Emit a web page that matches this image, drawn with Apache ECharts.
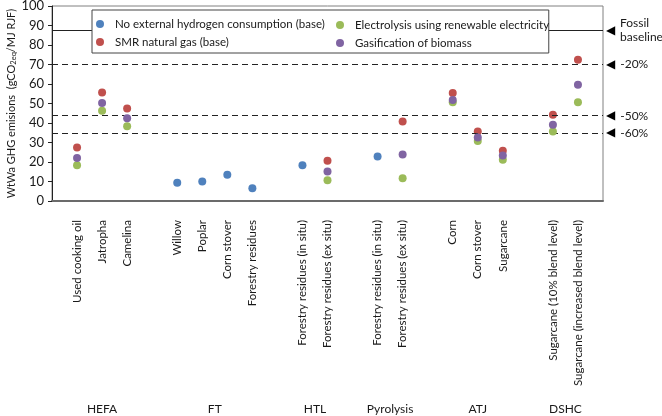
<!DOCTYPE html>
<html>
<head>
<meta charset="utf-8">
<script src="https://cdn.jsdelivr.net/npm/echarts@6/dist/echarts.min.js"></script>
<style>html,body{margin:0;padding:0;background:#fff}#c{width:662px;height:416px}</style>
</head>
<body>
<div id="c"></div>
<script>
// Categories (blank slots separate the pathway groups)
const categories = ['', 'Used cooking oil', 'Jatropha', 'Camelina', '',
  'Willow', 'Poplar', 'Corn stover', 'Forestry residues', '',
  'Forestry residues (in situ)', 'Forestry residues (ex situ)', '',
  'Forestry residues (in situ)', 'Forestry residues (ex situ)', '',
  'Corn', 'Corn stover', 'Sugarcane', '',
  'Sugarcane (10% blend level)', 'Sugarcane (increased blend level)', ''];

const seriesNames = ['No external hydrogen consumption (base)', 'SMR natural gas (base)',
  'Electrolysis using renewable electricity', 'Gasification of biomass'];

const noExternal   = [null, null, null, null, null, 9.3, 10.0, 13.4, 6.5, null, 18.3, null, null, 22.8, null, null, null, null, null, null, null, null, null];
const smr          = [null, 27.5, 55.7, 47.5, null, null, null, null, null, null, null, 20.7, null, null, 40.8, null, 55.4, 35.7, 25.8, null, 44.2, 72.4, null];
const electrolysis = [null, 18.3, 46.3, 38.3, null, null, null, null, null, null, null, 10.6, null, null, 11.7, null, 50.7, 30.8, 21.1, null, 35.7, 50.7, null];
const gasification = [null, 22.1, 50.2, 42.4, null, null, null, null, null, null, null, 15.1, null, null, 23.8, null, 51.8, 32.6, 23.3, null, 39.1, 59.6, null];

const groupNames   = ['HEFA', 'FT', 'HTL', 'Pyrolysis', 'ATJ', 'DSHC'];
const groupCenters = [2, 6.5, 10.5, 13.5, 17, 20.5];

const refValues = [87.5, 70, 43.75, 35];
const refLabels = ['Fossil\nbaseline', '-20%', '-50%', '-60%'];

const colors = ['#4F81BD', '#C0504D', '#9BBB59', '#8064A2'];
const FONT = 'Lato';
const TXT = '#1a1a1a';

const markLineData = [];
refValues.forEach((v, i) => {
  const solid = i === 0;
  markLineData.push({
    yAxis: v,
    lineStyle: { color: '#222', width: 1, type: solid ? 'solid' : [6, 4] },
    label: { formatter: solid ? '{arr|◀}' : '{arr|◀}' + refLabels[i] }
  });
  if (solid) {
    markLineData.push({
      yAxis: v,
      lineStyle: { color: 'rgba(0,0,0,0)', width: 1 },
      label: { formatter: refLabels[i], distance: 17, lineHeight: 14, color: TXT }
    });
  }
});

const seriesData = [noExternal, smr, electrolysis, gasification];
const series = seriesData.map((d, i) => ({
  name: seriesNames[i],
  type: 'scatter',
  xAxisIndex: 0,
  yAxisIndex: 0,
  data: d,
  symbolSize: 8,
  itemStyle: { color: colors[i], opacity: 1 },
  z: 3 + i,
  markLine: i === 0 ? {
    silent: true,
    symbol: ['none', 'none'],
    animation: false,
    label: {
      show: true, position: 'end', distance: 3,
      color: TXT, fontFamily: FONT, fontSize: 12,
      rich: { arr: { fontFamily: 'DejaVu Sans', fontSize: 12, color: '#000', padding: [0, 5, 0, 0] } }
    },
    data: markLineData
  } : undefined
}));

const legendText = { fontFamily: FONT, fontSize: 11.5, color: TXT, lineHeight: 18 };
const legendCommon = {
  top: 10, orient: 'vertical', itemGap: 0,
  icon: 'circle', itemWidth: 20, itemHeight: 8,
  textStyle: legendText
};

const chart = echarts.init(document.getElementById('c'), null, { renderer: 'canvas' });
chart.setOption({
  animation: false,
  backgroundColor: '#fff',
  textStyle: { fontFamily: FONT },
  grid: { left: 52, right: 59, top: 6, bottom: 215, show: true, borderColor: '#808080', borderWidth: 1, outerBoundsMode: 'none', containLabel: false },
  legend: [
    Object.assign({}, legendCommon, {
      left: 92, backgroundColor: '#fff', borderColor: '#444', borderWidth: 1,
      padding: [5, 224, 2, 4], z: 10,
      data: [seriesNames[0], seriesNames[1]]
    }),
    Object.assign({}, legendCommon, {
      left: 336, padding: [6, 0, 2, 0], z: 11,
      data: [seriesNames[2], seriesNames[3]]
    })
  ],
  xAxis: [{
    type: 'category', data: categories, boundaryGap: false,
    axisLine: { show: true, lineStyle: { color: '#6b6b6b', width: 2 } },
    axisTick: { show: false },
    axisLabel: { interval: 0, rotate: 90, margin: 19, fontSize: 11.5, color: TXT, fontFamily: FONT },
    splitLine: { show: false }
  }, {
    type: 'value', min: 0, max: categories.length - 1, position: 'bottom', offset: 202,
    axisLine: { show: false }, axisTick: { show: false }, splitLine: { show: false },
    axisLabel: {
      customValues: groupCenters, fontSize: 12, color: TXT, fontFamily: FONT, margin: 0,
      formatter: (v) => { const k = groupCenters.indexOf(v); return k >= 0 ? groupNames[k] : ''; }
    }
  }],
  yAxis: {
    type: 'value', min: 0, max: 100, interval: 10,
    name: 'WtWa GHG emisions  (gCO{sub|2eq}/MJ RJF)',
    nameLocation: 'middle', nameGap: 34, nameRotate: 90, nameMoveOverlap: false,
    nameTextStyle: { fontFamily: FONT, fontSize: 11, color: TXT,
      rich: { sub: { fontSize: 7.5, fontFamily: FONT, color: TXT, verticalAlign: 'bottom', padding: [5, 0, 0, 0] } } },
    axisLine: { show: true, lineStyle: { color: '#222', width: 1 } },
    axisTick: { show: true, length: 4, lineStyle: { color: '#222' } },
    axisLabel: { fontSize: 13, color: TXT, fontFamily: FONT, margin: 8 },
    splitLine: { show: false }
  },
  series: series
});
</script>
</body>
</html>
